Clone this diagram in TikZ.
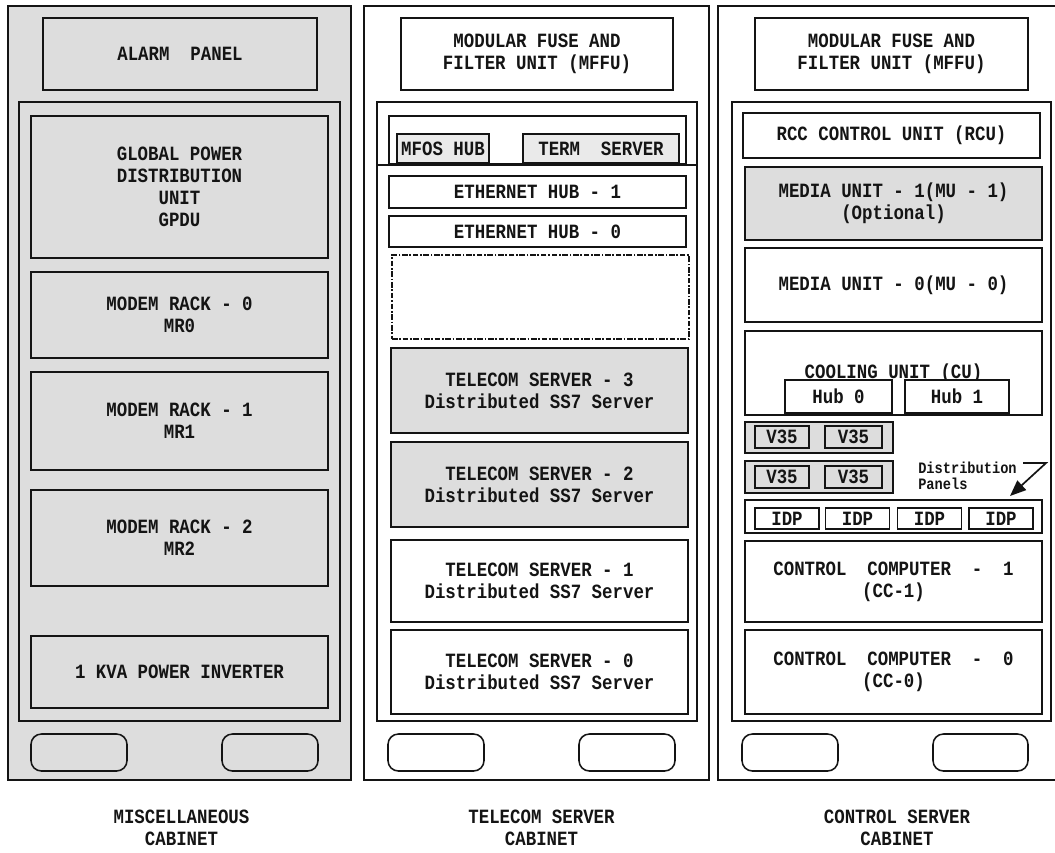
\documentclass[tikz,border=0pt]{standalone}
\usepackage{fontspec}
\setmonofont{Liberation Mono}[FakeStretch=0.86]
\usepackage{tikz}
\usetikzlibrary{arrows.meta,positioning}
\definecolor{panel}{RGB}{221,221,221}
\definecolor{slot}{RGB}{234,234,234}
\definecolor{ink}{RGB}{20,20,20}
\newcommand{\rackfont}{\fontsize{14.4}{15.6}\selectfont\ttfamily\bfseries}
\newcommand{\notefont}{\fontsize{11.3}{11.4}\selectfont\ttfamily\bfseries}
\tikzset{
  >={Triangle[length=4mm,width=3.2mm]},
  cabinet/.style={draw=ink,fill=#1,line width=1.4pt,inner sep=0pt,minimum width=85.75mm,minimum height=193.5mm},
  cabinet/.default=white,
  frame/.style={draw=ink,fill=#1,line width=1.35pt,inner sep=0pt,minimum height=154.75mm},
  frame/.default=white,
  unit/.style={draw=ink,fill=#1,line width=1.35pt,inner sep=0pt,align=center,
    font=\rackfont,text=ink,minimum width=74.25mm},
  unit/.default=white,
  spare/.style={draw=ink,line width=1.4pt,dash pattern=on 4pt off 1.2pt on 1.2pt off 1.2pt,
    minimum width=74.25mm,minimum height=21mm},
  foot/.style={draw=ink,line width=1.1pt,rounded corners=2.6mm,minimum width=24mm,minimum height=9.25mm},
  tag/.style={font=\rackfont,align=center,text=ink},
  note/.style={font=\notefont,align=left,text=ink,inner sep=0pt},
  pointer/.style={->,draw=ink,line width=1.2pt},
}
\begin{document}
\begin{tikzpicture}[x=0.25mm,y=-0.25mm]
  \clip (0,0) rectangle (1055,852);
  \useasboundingbox (0,0) rectangle (1055,852);

  % miscellaneous cabinet
  \node[cabinet=panel] (misc) at (179.5,393) {};
  \node[unit=panel,minimum width=68.5mm,minimum height=18mm] (alarm) at (180,54) {ALARM\ \ PANEL};
  \node[frame=panel,minimum width=80.25mm] (miscframe) at (179.5,411.5) {};
  \node[unit=panel,minimum height=35.5mm] (gpdu) at (179.5,187) {GLOBAL POWER\\DISTRIBUTION\\UNIT\\GPDU};
  \node[unit=panel,minimum height=21.5mm] (mr0) at (179.5,315) {MODEM RACK - 0\\MR0};
  \node[unit=panel,minimum height=24.5mm] (mr1) at (179.5,421) {MODEM RACK - 1\\MR1};
  \node[unit=panel,minimum height=24mm] (mr2) at (179.5,538) {MODEM RACK - 2\\MR2};
  \node[unit=panel,minimum height=18mm] (inverter) at (179.5,672) {1 KVA\ POWER\ INVERTER};
  \node[foot] (miscfootA) at (79,752.5) {};
  \node[foot] (miscfootB) at (270,752.5) {};
  \node[tag] (misctag) at (181.5,828) {MISCELLANEOUS\\CABINET};

  % telecom server cabinet
  \node[cabinet,minimum width=86.25mm] (telecom) at (536.5,393) {};
  \node[unit,minimum width=68mm,minimum height=18mm] (tsmffu) at (537,54) {MODULAR FUSE AND\\FILTER UNIT (MFFU)};
  \node[frame,minimum width=80mm] (tsframe) at (537,411.5) {};
  \node[unit,minimum height=12mm] (hubtray) at (537.5,140) {};
  \draw[ink,line width=1.35pt] (tsframe.west |- hubtray.south) -- (tsframe.east |- hubtray.south);
  \node[unit=slot,minimum width=23mm,minimum height=7.25mm] (mfos) at (443,148.5) {MFOS HUB};
  \node[unit=slot,minimum width=39mm,minimum height=7.25mm] (term) at (601,148.5) {TERM\ \ SERVER};
  \node[unit,minimum height=8mm] (eth1) at (537.5,192) {ETHERNET HUB - 1};
  \node[unit,minimum height=7.75mm] (eth0) at (537.5,231.5) {ETHERNET HUB - 0};
  \node[spare] (slot) at (540.5,297) {};
  \node[unit=panel,minimum height=21.25mm] (ts3) at (539.5,390.5) {TELECOM SERVER - 3\\Distributed SS7 Server};
  \node[unit=panel,minimum height=21.25mm] (ts2) at (539.5,484.5) {TELECOM SERVER - 2\\Distributed SS7 Server};
  \node[unit,minimum height=20.5mm] (ts1) at (539.5,581) {TELECOM SERVER - 1\\Distributed SS7 Server};
  \node[unit,minimum height=21mm] (ts0) at (539.5,672) {TELECOM SERVER - 0\\Distributed SS7 Server};
  \node[foot] (tsfootA) at (436,752.5) {};
  \node[foot] (tsfootB) at (627,752.5) {};
  \node[tag] (tstag) at (541.5,828) {TELECOM SERVER\\CABINET};

  % control server cabinet
  \node[cabinet,minimum width=86mm] (control) at (890,393) {};
  \node[unit,minimum width=68.25mm,minimum height=18mm] (csmffu) at (891.5,54) {MODULAR FUSE AND\\FILTER UNIT (MFFU)};
  \node[frame,minimum width=79.75mm] (csframe) at (891.5,411.5) {};
  \node[unit,minimum height=11.25mm] (rcu) at (891.5,135.5) {RCC CONTROL UNIT (RCU)};
  \node[unit=panel,minimum height=18.25mm] (mu1) at (893.5,203.5) {MEDIA UNIT - 1(MU - 1)\\(Optional)};
  \node[unit,minimum height=18.5mm] (mu0) at (893.5,285) {MEDIA UNIT - 0(MU - 0)};
  \node[unit,minimum height=21mm] (cu) at (893.5,373) {COOLING UNIT (CU)};
  \node[unit,minimum width=26.75mm,minimum height=8.25mm] (hub0) at (838.5,396.5) {Hub 0};
  \node[unit,minimum width=26mm,minimum height=8.25mm] (hub1) at (957,396.5) {Hub 1};
  \node[unit=panel,minimum width=37mm,minimum height=7.75mm] (v35trayA) at (819,437.5) {};
  \node[unit=panel,minimum width=37mm,minimum height=8mm] (v35trayB) at (819,477) {};
  \foreach \y/\n in {437/A,477/B}{
    \node[unit=panel,minimum width=13.5mm,minimum height=5.5mm] (v35\n1) at (782,\y) {V35};
    \node[unit=panel,minimum width=14.25mm,minimum height=5.5mm] (v35\n2) at (853.5,\y) {V35};
  }
  \node[unit,minimum height=8.25mm] (idptray) at (893.5,516.5) {};
  \foreach \x/\n in {787/1,857.5/2,929.5/3,1001/4}
    \node[unit,minimum width=16mm,minimum height=5.25mm] (idp\n) at (\x,518.5) {IDP};
  \node[note,anchor=west] (distnote) at (918,476) {Distribution\\Panels};
  \coordinate (distA) at (1023,463);
  \coordinate (distB) at (1046,463);
  \coordinate (distC) at (1010,496);
  \draw[pointer] (distA) -- (distB) -- (distC);
  \node[unit,minimum height=20.25mm] (cc1) at (893.5,581.5) {CONTROL\ \ COMPUTER\ \ -\ \ 1\\(CC-1)};
  \node[unit,minimum height=21mm] (cc0) at (893.5,672) {CONTROL\ \ COMPUTER\ \ -\ \ 0\\(CC-0)};
  \node[foot] (csfootA) at (790,752.5) {};
  \node[foot,minimum width=23.75mm] (csfootB) at (980.5,752.5) {};
  \node[tag] (cstag) at (897,828) {CONTROL\ SERVER\\CABINET};
\end{tikzpicture}
\end{document}
